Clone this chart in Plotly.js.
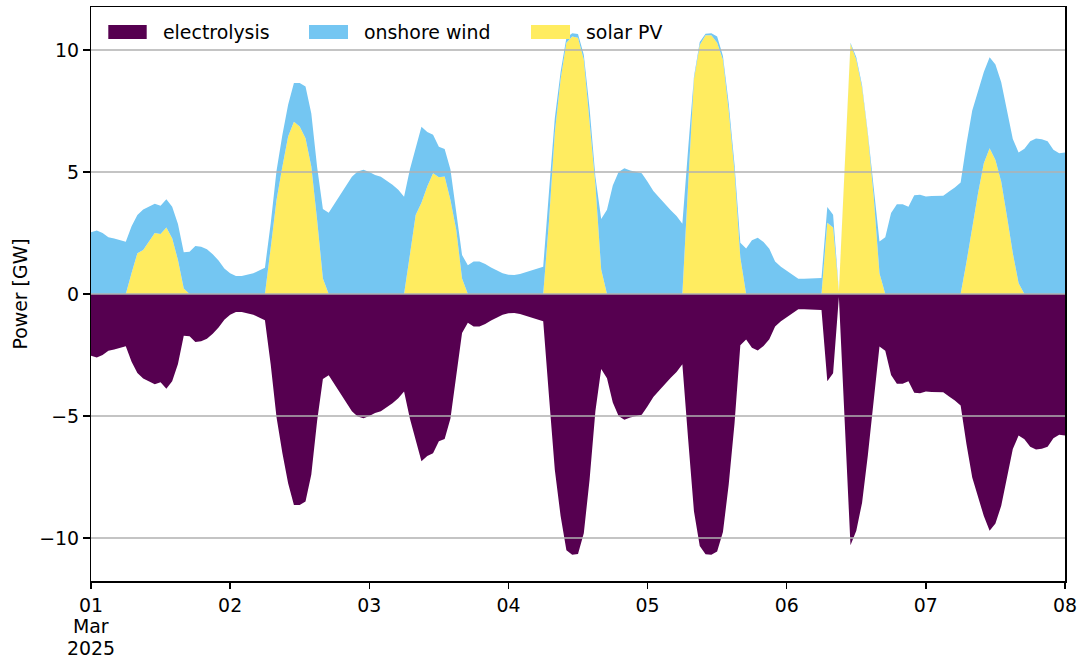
<!DOCTYPE html>
<html>
<head>
<meta charset="utf-8">
<script src="https://cdn.plot.ly/plotly-3.0.1.min.js"></script>
<style>html,body{margin:0;padding:0;background:#fff;}#chart{width:1084px;height:662px;}</style>
</head>
<body>
<div id="chart"></div>
<script>
// hourly snapshots, 2025-03-01 00:00 .. 2025-03-08 00:00
const startTime = "2025-03-01T00:00:00";
const nHours = 169;

const dayTicks = ["2025-03-01","2025-03-02","2025-03-03","2025-03-04","2025-03-05","2025-03-06","2025-03-07","2025-03-08"];
const dayLabels = ["01","02","03","04","05","06","07","08"];
const firstTickExtra = ["Mar","2025"];
const yTicks = [-10,-5,0,5,10];
const yLabels = ["\u221210","\u22125","0","5","10"];

const seriesNames = ["electrolysis","onshore wind","solar PV"];

// solar PV [GW]
const solarPV = [
0,0,0,0,0,0,0,0.86,1.67,1.80,2.14,2.50,2.46,2.72,2.28,1.39,0.23,0,0,0,0,0,0,0,
0,0,0,0,0,0,0,1.9,3.85,5.2,6.45,7.06,6.86,6.38,5.22,3.03,0.64,0,0,0,0,0,0,0,
0,0,0,0,0,0,0,1.6,3.24,3.74,4.40,4.95,4.78,4.81,3.85,2.62,0.64,0,0,0,0,0,0,0,
0,0,0,0,0,0,0,3.0,6.6,8.8,10.3,10.55,10.5,9.6,7.2,4.5,1.0,0,0,0,0,0,0,0,
0,0,0,0,0,0,0,4.5,8.8,10.2,10.6,10.6,10.3,9.6,7.5,5.0,1.5,0,0,0,0,0,0,0,
0,0,0,0,0,0,0,2.92,2.73,0.1,5.1,10.25,9.6,8.45,6.5,4.0,0.85,0,0,0,0,0,0,0,
0,0,0,0,0,0,0,1.3,2.76,4.13,5.36,5.97,5.49,4.6,3.17,1.67,0.44,0,0,0,0,0,0,0,0
];

// onshore wind [GW]
const onshoreWind = [
2.53,2.60,2.50,2.33,2.27,2.21,2.14,1.92,1.57,1.66,1.44,1.20,1.16,1.16,1.30,1.48,1.48,1.73,1.97,1.94,1.83,1.63,1.37,1.05,
0.85,0.74,0.74,0.78,0.85,0.96,1.08,1.0,1.2,1.3,1.3,1.59,1.79,2.12,2.18,2.17,2.84,3.33,3.70,4.05,4.45,4.80,5.02,5.09,
5.00,4.88,4.80,4.65,4.48,4.27,3.99,3.5,2.74,3.11,2.24,1.58,1.25,1.13,1.25,0.78,0.96,1.18,1.33,1.33,1.23,1.09,0.98,0.85,
0.79,0.78,0.82,0.89,0.96,1.04,1.12,1.2,0.6,0.3,0.2,0.13,0.15,0.2,0.4,0.3,2.07,3.45,4.45,5.00,5.15,5.06,5.02,4.95,
4.60,4.22,3.95,3.68,3.43,3.20,2.88,1.45,0.1,0.13,0.06,0.08,0.25,0.15,0.3,0.3,0.6,1.86,2.20,2.31,2.13,1.85,1.33,1.12,
0.95,0.78,0.62,0.62,0.63,0.63,0.66,0.65,0.52,0.02,0.1,0.05,0.1,0.1,0.1,0.34,1.3,2.33,3.32,3.68,3.68,3.58,4.05,4.07,
4.00,4.02,4.03,4.03,4.20,4.36,4.57,4.85,4.76,4.14,3.74,3.73,3.91,4.08,4.38,4.68,5.36,5.95,6.26,6.37,6.34,6.26,5.91,5.77,5.80
];

// electrolysis [GW] (consumption, negative)
const electrolysis = [
-2.53,-2.60,-2.50,-2.33,-2.27,-2.21,-2.14,-2.78,-3.24,-3.46,-3.58,-3.70,-3.62,-3.88,-3.58,-2.87,-1.71,-1.73,-1.97,-1.94,-1.83,-1.63,-1.37,-1.05,
-0.85,-0.74,-0.74,-0.78,-0.85,-0.96,-1.08,-2.9,-5.05,-6.5,-7.75,-8.65,-8.65,-8.5,-7.4,-5.2,-3.48,-3.33,-3.70,-4.05,-4.45,-4.80,-5.02,-5.09,
-5.00,-4.88,-4.80,-4.65,-4.48,-4.27,-3.99,-5.1,-5.98,-6.85,-6.64,-6.53,-6.03,-5.94,-5.1,-3.4,-1.6,-1.18,-1.33,-1.33,-1.23,-1.09,-0.98,-0.85,
-0.79,-0.78,-0.82,-0.89,-0.96,-1.04,-1.12,-4.2,-7.2,-9.1,-10.5,-10.68,-10.65,-9.8,-7.6,-4.8,-3.07,-3.45,-4.45,-5.00,-5.15,-5.06,-5.02,-4.95,
-4.60,-4.22,-3.95,-3.68,-3.43,-3.20,-2.88,-5.95,-8.9,-10.33,-10.66,-10.68,-10.55,-9.75,-7.8,-5.3,-2.1,-1.86,-2.20,-2.31,-2.13,-1.85,-1.33,-1.12,
-0.95,-0.78,-0.62,-0.62,-0.63,-0.63,-0.66,-3.57,-3.25,-0.12,-5.2,-10.3,-9.7,-8.55,-6.6,-4.34,-2.15,-2.33,-3.32,-3.68,-3.68,-3.58,-4.05,-4.07,
-4.00,-4.02,-4.03,-4.03,-4.20,-4.36,-4.57,-6.15,-7.52,-8.27,-9.1,-9.7,-9.4,-8.68,-7.55,-6.35,-5.8,-5.95,-6.26,-6.37,-6.34,-6.26,-5.91,-5.77,-5.80
];

const colors = {"electrolysis":"#560050","onshore wind":"#74c6f2","solar PV":"#ffec60"};

// build hourly time axis
const t0 = Date.parse(startTime + "Z");
const times = [];
for (let i = 0; i < nHours; i++) {
  const d = new Date(t0 + i * 3600000);
  times.push(d.toISOString().slice(0,19).replace("T"," "));
}

const FONT = "DejaVu Sans";
const FS = 18.9;

const traces = [
  {x: times, y: electrolysis, type: "scatter", mode: "lines", name: seriesNames[0],
   fill: "tozeroy", fillcolor: colors["electrolysis"], line: {width: 0, color: colors["electrolysis"]}, showlegend: false},
  {x: times, y: solarPV, type: "scatter", mode: "lines", name: seriesNames[2],
   stackgroup: "pos", fillcolor: colors["solar PV"], line: {width: 0, color: colors["solar PV"]}, showlegend: false},
  {x: times, y: onshoreWind, type: "scatter", mode: "lines", name: seriesNames[1],
   stackgroup: "pos", fillcolor: colors["onshore wind"], line: {width: 0, color: colors["onshore wind"]}, showlegend: false}
];

// plot area geometry (pixels) for legend placement
const L = 91, R = 1065, T = 7, B = 581, W = R - L, H = B - T;
const px = x => (x - L) / W;
const py = y => 1 - (y - T) / H;

const shapes = [];
yTicks.forEach(v => {
  shapes.push({type: "line", xref: "paper", yref: "y", x0: 0, x1: 1, y0: v, y1: v,
    line: {color: "#b0b0b0", width: 1.5}, layer: "above"});
});

const legendItems = [
  {name: seriesNames[0], x0: 108.3, x1: 146.7, tx: 160.5},
  {name: seriesNames[1], x0: 309, x1: 348, tx: 361.5},
  {name: seriesNames[2], x0: 531, x1: 570, tx: 583.5}
];
const annotations = [];
legendItems.forEach(it => {
  shapes.push({type: "rect", xref: "paper", yref: "paper", x0: px(it.x0), x1: px(it.x1), y0: py(39), y1: py(25),
    fillcolor: colors[it.name], line: {width: 0}, layer: "above"});
  annotations.push({xref: "paper", yref: "paper", x: px(it.tx), y: py(32), xanchor: "left", yanchor: "middle",
    text: it.name, showarrow: false, font: {family: FONT, size: FS, color: "#000"}});
});
annotations.push({xref: "paper", yref: "paper", x: px(19.5), y: 0.5, xanchor: "center", yanchor: "middle",
  text: "Power [GW]", textangle: -90, showarrow: false, font: {family: FONT, size: FS, color: "#000"}});
// second and third lines of the first date tick label
[[firstTickExtra[0], 625.5], [firstTickExtra[1], 647.5]].forEach(([txt, yy]) => {
  annotations.push({xref: "paper", yref: "paper", x: 0, y: py(yy), xanchor: "center", yanchor: "middle",
    text: txt, showarrow: false, font: {family: FONT, size: FS, color: "#000"}});
});

const layout = {
  width: 1084, height: 662,
  margin: {l: L, r: 1084 - R, t: T, b: 662 - B, pad: 0},
  paper_bgcolor: "#fff", plot_bgcolor: "#fff",
  font: {family: FONT, size: FS, color: "#000"},
  showlegend: false,
  xaxis: {
    type: "date", range: ["2025-03-01 00:00:00", "2025-03-08 00:00:00"],
    tickmode: "array", tickvals: dayTicks, ticktext: dayLabels,
    ticks: "outside", ticklen: 6.6, tickwidth: 1.5, tickcolor: "#000",
    showline: true, linecolor: "#000", linewidth: 1.5, mirror: true,
    showgrid: false, zeroline: false, layer: "above traces",
    tickfont: {family: FONT, size: FS, color: "#000"}
  },
  yaxis: {
    range: [-11.76, 11.76],
    tickmode: "array", tickvals: yTicks, ticktext: yLabels,
    ticks: "outside", ticklen: 6.6, tickwidth: 1.5, tickcolor: "#000",
    showline: true, linecolor: "#000", linewidth: 1.5, mirror: true,
    showgrid: false, zeroline: false, layer: "above traces",
    tickfont: {family: FONT, size: FS, color: "#000"}
  },
  shapes: shapes,
  annotations: annotations
};

Plotly.newPlot("chart", traces, layout, {displayModeBar: false, staticPlot: true});
</script>
</body>
</html>
